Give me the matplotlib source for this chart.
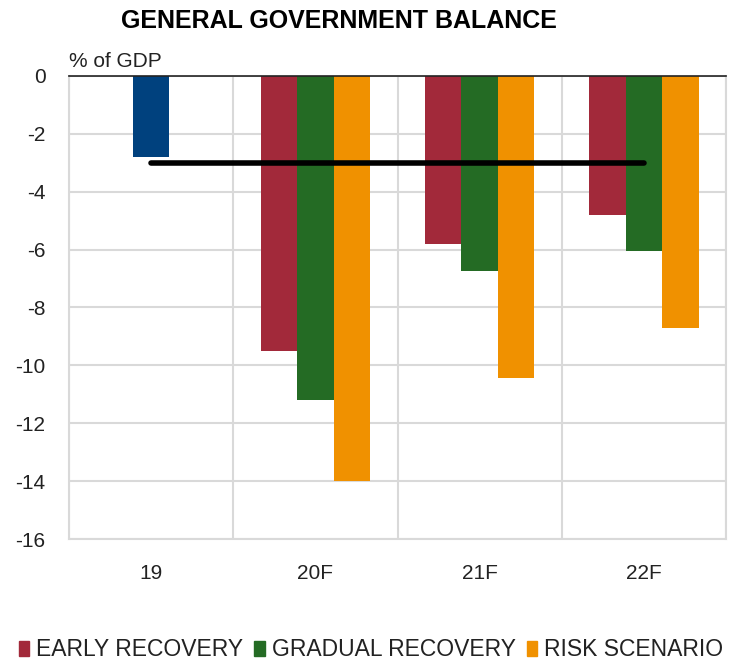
import numpy as np
import matplotlib
matplotlib.use('Agg')
import matplotlib.pyplot as plt
from matplotlib.patches import Patch

plt.rcParams['font.family'] = ['Liberation Sans', 'DejaVu Sans']
plt.rcParams['axes.unicode_minus'] = False

years = ['19', '20F', '21F', '22F']
actual_2019 = -2.8
early_recovery = [-9.5, -5.8, -4.8]
gradual_recovery = [-11.2, -6.75, -6.05]
risk_scenario = [-14.0, -10.45, -8.7]
deficit_limit = -3.0

c_actual = '#00417e'
c_early = '#a2293a'
c_gradual = '#246b24'
c_risk = '#f09100'

fig = plt.figure(figsize=(7.35, 6.62), dpi=100)
ax = fig.add_axes([0.0939, 0.1858, 0.8939, 0.6994])

x = np.arange(len(years))
w = 0.222
ax.bar(x[0], actual_2019, w, color=c_actual, zorder=3)
xf = x[1:]
ax.bar(xf - w, early_recovery, w, color=c_early, zorder=3)
ax.bar(xf, gradual_recovery, w, color=c_gradual, zorder=3)
ax.bar(xf + w, risk_scenario, w, color=c_risk, zorder=3)

ax.plot([x[0], x[-1]], [deficit_limit, deficit_limit], color='black', lw=4,
        solid_capstyle='round', zorder=4)

ax.set_xlim(-0.5, 3.5)
ax.set_ylim(-16, 0)
ax.set_yticks(np.arange(-16, 1, 2))
ax.set_xticks(x)
ax.set_xticklabels(years)
ax.set_xticks(np.arange(-0.5, 4, 1), minor=True)
ax.grid(True, which='major', axis='y', color='#d9d9d9', lw=1.5, zorder=0)
ax.grid(True, which='minor', axis='x', color='#d9d9d9', lw=1.5, zorder=0)
ax.tick_params(which='both', length=0, labelsize=15, colors='#222222')
ax.tick_params(axis='y', pad=17)
ax.tick_params(axis='x', pad=18)
for s in ['left', 'right', 'bottom']:
    ax.spines[s].set_color('#d9d9d9')
    ax.spines[s].set_linewidth(1.5)
ax.spines['top'].set_color('#222222')
ax.spines['top'].set_linewidth(1.2)
ax.spines['top'].set_zorder(5)

ax.text(0.0, 1.01, '% of GDP', transform=ax.transAxes, fontsize=15,
        color='#222222', ha='left', va='bottom')
fig.text(339 / 735, 1 - 21 / 662, 'GENERAL GOVERNMENT BALANCE', fontsize=18,
         fontweight='bold', ha='center', va='center')

handles = [Patch(color=c_early, label='EARLY RECOVERY'),
           Patch(color=c_gradual, label='GRADUAL RECOVERY'),
           Patch(color=c_risk, label='RISK SCENARIO')]
fig.legend(handles=handles, loc='center', bbox_to_anchor=(371 / 735, 1 - 650 / 662),
           ncol=3, frameon=False, fontsize=16.5, handlelength=0.45,
           handleheight=0.6, handletextpad=0.3, columnspacing=0.5,
           labelcolor='#222222')

fig.savefig('out.png', dpi=100)
